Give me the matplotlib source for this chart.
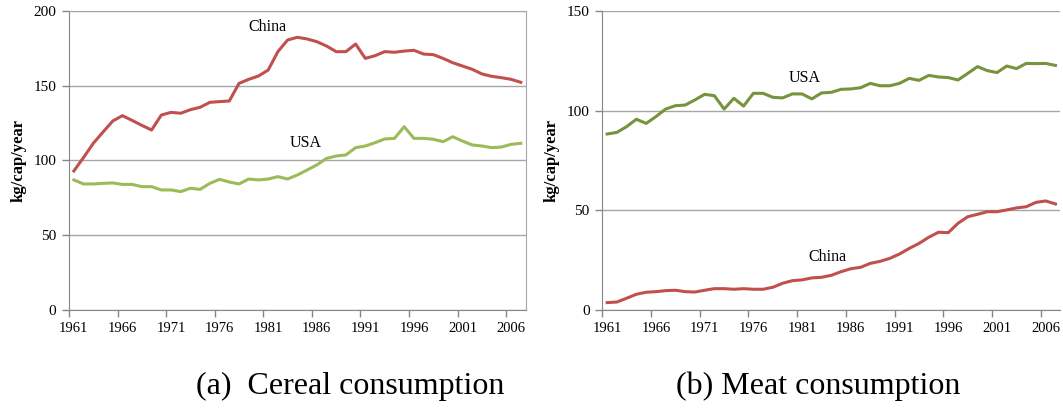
import matplotlib
matplotlib.use("Agg")
import matplotlib.pyplot as plt
import numpy as np

plt.rcParams["font.family"] = ["Liberation Serif", "DejaVu Serif"]

years = list(range(1961, 2008))

cereal_china = [93.0, 102.0, 111.5, 119.0, 126.4, 130.0, 126.8, 123.5, 120.4, 130.4,
                132.2, 131.6, 134.0, 135.6, 138.9, 139.4, 139.8, 151.6, 154.3, 156.5,
                160.5, 172.8, 180.6, 182.4, 181.3, 179.5, 176.6, 172.8, 172.8, 177.9,
                168.3, 170.1, 172.8, 172.4, 173.2, 173.7, 171.2, 170.8, 168.3, 165.4,
                163.2, 161.0, 157.9, 156.3, 155.4, 154.3, 152.3]
cereal_usa = [87.0, 84.3, 84.3, 84.7, 85.0, 84.0, 84.0, 82.5, 82.5, 80.3,
              80.3, 79.2, 81.4, 80.7, 84.7, 87.4, 85.6, 84.3, 87.6, 87.0,
              87.6, 89.2, 87.6, 90.3, 93.6, 97.0, 101.4, 103.0, 103.7, 108.6,
              109.7, 111.9, 114.4, 114.8, 122.6, 114.8, 114.8, 114.2, 112.6, 115.9,
              113.0, 110.4, 109.7, 108.6, 109.0, 110.8, 111.5]

meat_china = [3.7, 4.0, 5.9, 7.9, 8.9, 9.2, 9.7, 9.9, 9.2, 9.0,
              9.9, 10.7, 10.7, 10.4, 10.7, 10.4, 10.4, 11.4, 13.4, 14.7,
              15.1, 16.1, 16.4, 17.4, 19.2, 20.7, 21.4, 23.4, 24.4, 25.9,
              28.1, 30.9, 33.4, 36.5, 39.0, 38.8, 43.5, 46.8, 48.0, 49.3,
              49.3, 50.2, 51.2, 51.8, 54.0, 54.7, 53.2]
meat_usa = [88.3, 89.1, 92.0, 95.7, 93.6, 97.0, 100.8, 102.5, 102.8, 105.4,
            108.2, 107.5, 100.8, 106.2, 102.3, 108.7, 108.7, 106.7, 106.4, 108.4,
            108.4, 105.9, 108.9, 109.2, 110.7, 110.9, 111.5, 113.7, 112.5, 112.5,
            113.7, 116.2, 115.2, 117.7, 116.9, 116.6, 115.4, 118.7, 122.1, 120.1,
            119.1, 122.4, 121.1, 123.7, 123.6, 123.7, 122.7]

red = "#C0504D"
green_light = "#9BBB59"
green_dark = "#77933C"
axis_gray = "#868686"
grid_gray = "#A6A6A6"


def style_axis(ax, ymax, frame):
    n = len(years)
    x = np.arange(n)
    ax.set_xlim(-0.5, n - 0.5)
    ax.set_ylim(0, ymax)
    # tick marks sit on category boundaries, labels sit on the categories
    ax.set_xticks(np.arange(-0.5, n - 0.5, 5))
    ax.set_xticklabels([])
    ax.set_xticks(x[::5], minor=True)
    ax.set_xticklabels([str(years[i]) for i in x[::5]], minor=True, fontsize=10.5)
    ax.tick_params(axis="x", which="minor", length=0, pad=9)
    ax.tick_params(axis="x", which="major", length=5, color=axis_gray, width=1)
    ax.set_yticks(np.arange(0, ymax + 1, 50))
    ax.tick_params(axis="y", length=5, color=axis_gray, width=1, labelsize=11, pad=4)
    ax.yaxis.grid(True, color=grid_gray, linewidth=1)
    ax.set_axisbelow(True)
    for side in ["left", "bottom"]:
        ax.spines[side].set_color(axis_gray)
    for side in ["top", "right"]:
        ax.spines[side].set_visible(frame)
        ax.spines[side].set_color(grid_gray)
    ax.set_ylabel("kg/cap/year", fontsize=12, fontweight="bold", labelpad=5)


fig = plt.figure(figsize=(10.63, 4.12), dpi=100)

# cereal
ax1 = fig.add_axes([0.0649, 0.2476, 0.4296, 0.7257])
x = np.arange(len(years))
ax1.plot(x, cereal_china, color=red, linewidth=2.2)
ax1.plot(x, cereal_usa, color=green_light, linewidth=2.2)
style_axis(ax1, 200, True)
ax1.text(19.9, 189, "China", fontsize=11.5, ha="center", va="center")
ax1.text(23.9, 112, "USA", fontsize=11.5, ha="center", va="center")

# meat
ax2 = fig.add_axes([0.5666, 0.2476, 0.4309, 0.7257])
ax2.plot(x, meat_usa, color=green_dark, linewidth=2.2)
ax2.plot(x, meat_china, color=red, linewidth=2.2)
style_axis(ax2, 150, False)
ax2.text(20.3, 116.6, "USA", fontsize=11.5, ha="center", va="center")
ax2.text(22.65, 26.5, "China", fontsize=11.5, ha="center", va="center")

fig.text(350 / 1063, 1 - 386 / 412, "(a)  Cereal consumption", fontsize=23,
         ha="center", va="center")
fig.text(818 / 1063, 1 - 386 / 412, "(b) Meat consumption", fontsize=23,
         ha="center", va="center")

fig.savefig("out.png", dpi=100)
